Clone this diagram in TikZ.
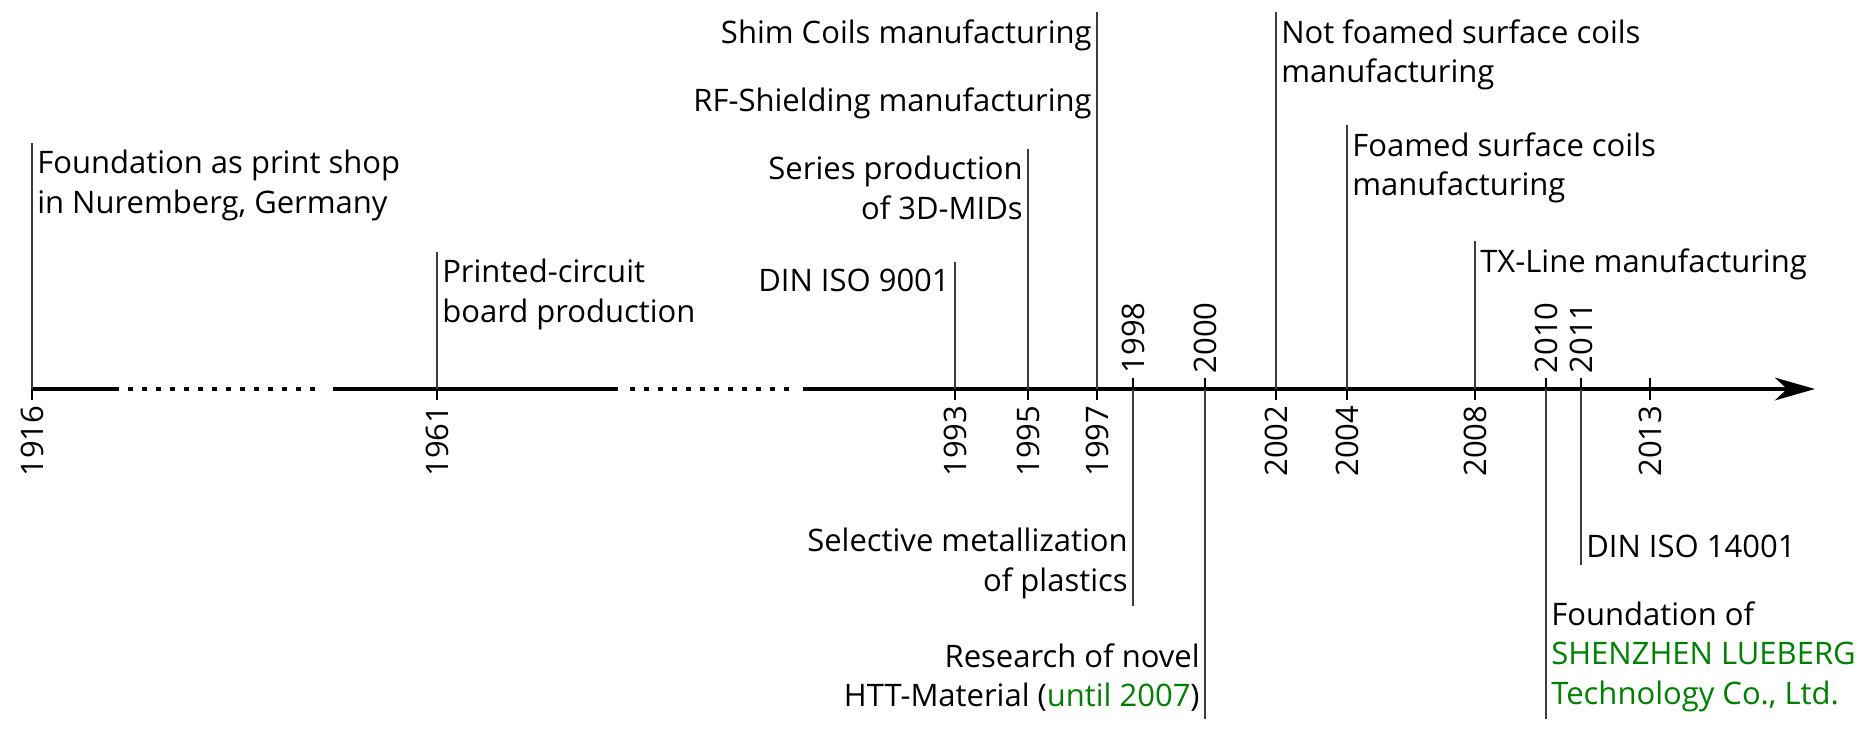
\documentclass[tikz,border=0pt]{standalone}
\usepackage{fontspec}
\setmainfont{Open Sans}
\usetikzlibrary{arrows.meta}

\definecolor{luegreen}{RGB}{0,128,0}
\definecolor{stemgray}{RGB}{60,60,60}

\begin{document}
\begin{tikzpicture}[x=0.3pt,y=0.3pt,line join=round,
  evt/.style={font=\fontsize{9.3}{11.8}\selectfont,inner xsep=1.4pt,inner ysep=2pt},
  evtleft/.style={evt,align=left},
  evtright/.style={evt,align=right},
  yearlbl/.style={font=\fontsize{9.3}{11.8}\selectfont,rotate=90,inner sep=0pt},
  axisline/.style={line width=1.2pt},
  axisdots/.style={line width=1.2pt,dash pattern=on 1.35pt off 2.85pt},
  tickmark/.style={line width=0.6pt},
  stem/.style={line width=0.45pt,stemgray}]

  \useasboundingbox (0,-339) rectangle (1864,389);

  % ---- axis ----
  \coordinate (axL) at (32,0);
  \coordinate (axR) at (1815,0);
  \draw[axisline] (axL) -- (119,0);
  \draw[axisdots] (128,0) -- (321,0);
  \draw[axisline] (333,0) -- (618,0);
  \draw[axisdots] (630,0) -- (794,0);
  \draw[axisline,-{Stealth[length=12pt,width=6.8pt,inset=3.6pt]}] (803,0) -- (axR);

  % ---- years ----
  \coordinate (y1916) at (32,0);
  \coordinate (y1961) at (437,0);
  \coordinate (y1993) at (955,0);
  \coordinate (y1995) at (1028,0);
  \coordinate (y1997) at (1097,0);
  \coordinate (y1998) at (1133,0);
  \coordinate (y2000) at (1205,0);
  \coordinate (y2002) at (1276,0);
  \coordinate (y2004) at (1347,0);
  \coordinate (y2008) at (1475,0);
  \coordinate (y2010) at (1546,0);
  \coordinate (y2011) at (1581,0);
  \coordinate (y2013) at (1650,0);

  \draw[tickmark] (y1916) +(0,-11) -- +(0,11);
  \draw[tickmark] (y1961) +(0,-11) -- +(0,11);
  \draw[tickmark] (y1993) +(0,-11) -- +(0,11);
  \draw[tickmark] (y1995) +(0,-11) -- +(0,11);
  \draw[tickmark] (y1997) +(0,-11) -- +(0,11);
  \draw[tickmark] (y1998) +(0,-11) -- +(0,11);
  \draw[tickmark] (y2000) +(0,-11) -- +(0,11);
  \draw[tickmark] (y2002) +(0,-11) -- +(0,11);
  \draw[tickmark] (y2004) +(0,-11) -- +(0,11);
  \draw[tickmark] (y2008) +(0,-11) -- +(0,11);
  \draw[tickmark] (y2010) +(0,-11) -- +(0,11);
  \draw[tickmark] (y2011) +(0,-11) -- +(0,11);
  \draw[tickmark] (y2013) +(0,-11) -- +(0,11);

  % year labels below the axis
  \node[yearlbl,anchor=east] (l1916) at (32,-16) {1916};
  \node[yearlbl,anchor=east] (l1961) at (437,-16) {1961};
  \node[yearlbl,anchor=east] (l1993) at (955,-16) {1993};
  \node[yearlbl,anchor=east] (l1995) at (1028,-16) {1995};
  \node[yearlbl,anchor=east] (l1997) at (1097,-16) {1997};
  \node[yearlbl,anchor=east] (l2002) at (1276,-16) {2002};
  \node[yearlbl,anchor=east] (l2004) at (1347,-16) {2004};
  \node[yearlbl,anchor=east] (l2008) at (1475,-16) {2008};
  \node[yearlbl,anchor=east] (l2013) at (1650,-16) {2013};
  % year labels above the axis
  \node[yearlbl,anchor=west] (l1998) at (1133,15) {1998};
  \node[yearlbl,anchor=west] (l2000) at (1205,15) {2000};
  \node[yearlbl,anchor=west] (l2010) at (1546,15) {2010};
  \node[yearlbl,anchor=west] (l2011) at (1581,15) {2011};

  % ---- events above ----
  \node[evtleft,anchor=north west] (e1916) at (32,246) {Foundation as print shop\\in Nuremberg, Germany};
  \draw[stem] (e1916.north west) -- (y1916);

  \node[evtleft,anchor=north west] (e1961) at (437,137) {Printed-circuit\\board production};
  \draw[stem] (e1961.north west) -- (y1961);

  \node[evtright,anchor=north east] (e1993) at (955,127) {DIN ISO 9001};
  \draw[stem] (e1993.north east) -- (y1993);

  \node[evtright,anchor=north east] (e1995) at (1028,240) {Series production\\of 3D-MIDs};
  \draw[stem] (e1995.north east) -- (y1995);

  \node[evtright,anchor=north east] (e1997a) at (1097,377) {Shim Coils manufacturing};
  \node[evtright,anchor=north east] (e1997b) at (1097,309) {RF-Shielding manufacturing};
  \draw[stem] (e1997a.north east) -- (y1997);

  \node[evtleft,anchor=north west] (e2002) at (1276,377) {Not foamed surface coils\\manufacturing};
  \draw[stem] (e2002.north west) -- (y2002);

  \node[evtleft,anchor=north west] (e2004) at (1347,264) {Foamed surface coils\\manufacturing};
  \draw[stem] (e2004.north west) -- (y2004);

  \node[evtleft,anchor=north west] (e2008) at (1475,148) {TX-Line manufacturing};
  \draw[stem] (e2008.north west) -- (y2008);

  % ---- events below ----
  \node[evtright,anchor=south east] (e1998) at (1133,-217) {Selective metallization\\of plastics};
  \draw[stem] (y1998) -- (e1998.south east);

  \node[evtright,anchor=south east] (e2000) at (1205,-330) {Research of novel\\HTT-Material (\textcolor{luegreen}{until 2007})};
  \draw[stem] (y2000) -- (e2000.south east);

  \node[evtleft,anchor=south west] (e2010) at (1546,-330) {Foundation of\\\textcolor{luegreen}{SHENZHEN LUEBERG}\\\textcolor{luegreen}{Technology Co., Ltd.}};
  \draw[stem] (y2010) -- (e2010.south west);

  \node[evtleft,anchor=south west] (e2011) at (1581,-176) {DIN ISO 14001};
  \draw[stem] (y2011) -- (e2011.south west);

\end{tikzpicture}
\end{document}
